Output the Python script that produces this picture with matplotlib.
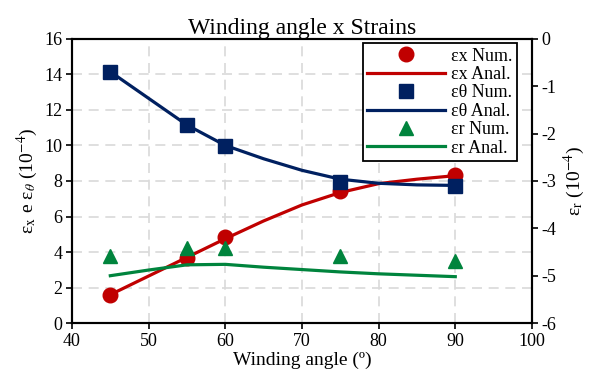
import matplotlib
matplotlib.use('Agg')
import matplotlib.pyplot as plt

# Numerical results
angles_num = [45, 55, 60, 75, 90]
ex_num = [1.58, 3.64, 4.83, 7.45, 8.34]
eth_num = [14.16, 11.15, 9.99, 7.96, 7.72]
er_num = [-4.59, -4.42, -4.42, -4.59, -4.68]

# Analytical curves
angles_anal = [45, 50, 55, 60, 65, 70, 75, 80, 85, 90]
ex_anal = [1.6, 2.65, 3.7, 4.75, 5.75, 6.65, 7.35, 7.85, 8.1, 8.3]
eth_anal = [14.15, 12.65, 11.15, 10.0, 9.25, 8.6, 8.1, 7.87, 7.78, 7.75]
er_anal = [-5.0, -4.88, -4.77, -4.76, -4.82, -4.87, -4.92, -4.96, -4.99, -5.02]

RED = '#C00000'
NAVY = '#002060'
GREEN = '#00843D'

plt.rcParams['font.family'] = 'Liberation Serif'
plt.rcParams['mathtext.fontset'] = 'stix'
plt.rcParams['axes.unicode_minus'] = False

fig = plt.figure(figsize=(5.95, 3.81), dpi=100)
ax = fig.add_axes([0.121, 0.152, 0.773, 0.746])
ax2 = ax.twinx()

h1, = ax.plot(angles_num, ex_num, 'o', color=RED, markersize=10.5, linestyle='none')
h2, = ax.plot(angles_anal, ex_anal, '-', color=RED, linewidth=2.3)
h3, = ax.plot(angles_num, eth_num, 's', color=NAVY, markersize=10, linestyle='none')
h4, = ax.plot(angles_anal, eth_anal, '-', color=NAVY, linewidth=2.3)
h5, = ax2.plot(angles_num, er_num, '^', color=GREEN, markersize=10.5, linestyle='none')
h6, = ax2.plot(angles_anal, er_anal, '-', color=GREEN, linewidth=2.3)

ax.set_xlim(40, 100)
ax.set_ylim(0, 16)
ax.set_xticks(range(40, 101, 10))
ax.set_yticks(range(0, 17, 2))
ax2.set_ylim(-6, 0)
ax2.set_yticks(range(-6, 1, 1))

ax.grid(True, linestyle=(0, (6, 4)), color='#d9d9d9', linewidth=1.2)
ax.set_axisbelow(True)

for a in (ax, ax2):
    a.tick_params(labelsize=13, direction='out', length=4, width=1.2, colors='black', pad=3)
    for s in a.spines.values():
        s.set_linewidth(1.5)
        s.set_color('black')

ax.set_title('Winding angle x Strains', fontsize=17, pad=3)
ax.set_xlabel('Winding angle (º)', fontsize=14, labelpad=1)
ax.set_ylabel(r'ε$_\mathrm{x}$ e ε$_\theta$ (10$^{-4}$)', fontsize=14, labelpad=3)
ax2.set_ylabel(r'ε$_\mathrm{r}$ (10$^{-4}$)', fontsize=14, labelpad=4)

leg = fig.legend([h1, h2, h3, h4, h5, h6],
                 ['εx Num.', 'εx Anal.', 'εθ Num.', 'εθ Anal.', 'εr Num.', 'εr Anal.'],
                 loc='upper right', bbox_to_anchor=(517 / 595, 1 - 43 / 381),
                 fontsize=13, frameon=True, fancybox=False,
                 edgecolor='black', framealpha=1, handlelength=4.3,
                 labelspacing=0.08, borderpad=0.25, handletextpad=0.35,
                 borderaxespad=0)
leg.get_frame().set_linewidth(1.3)

fig.savefig('out.png', dpi=100)
